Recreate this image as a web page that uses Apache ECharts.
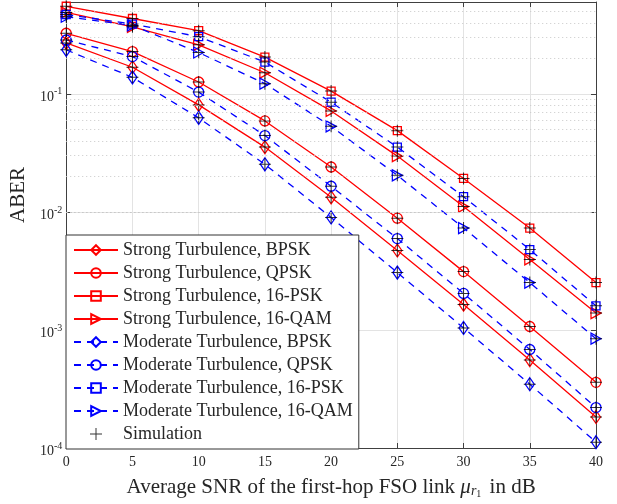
<!DOCTYPE html>
<html>
<head>
<meta charset="utf-8">
<script src="https://cdn.jsdelivr.net/npm/echarts@6/dist/echarts.min.js"></script>
<style>
  html, body { margin: 0; padding: 0; background: #fff; }
  #chart { width: 617px; height: 504px; }
</style>
</head>
<body>
<div id="chart"></div>
<script>
// SNR of the first hop (dB)
var snr = [0, 5, 10, 15, 20, 25, 30, 35, 40];

// ABER
var strongBpsk  = [0.27, 0.168, 0.0806, 0.0354, 0.0133, 0.00471, 0.00164, 0.000556, 0.000183];
var strongQpsk  = [0.326, 0.228, 0.126, 0.059, 0.024, 0.00885, 0.00312, 0.00107, 0.00036];
var strong16psk = [0.552, 0.435, 0.343, 0.205, 0.1055, 0.0488, 0.0192, 0.0073, 0.00252];
var strong16qam = [0.49, 0.37, 0.26, 0.151, 0.0717, 0.0297, 0.0111, 0.00396, 0.00139];
var modBpsk     = [0.236, 0.138, 0.0626, 0.0253, 0.00897, 0.00306, 0.00104, 0.000347, 0.000112];
var modQpsk     = [0.286, 0.207, 0.1035, 0.0443, 0.0165, 0.00594, 0.00204, 0.000683, 0.00022];
var mod16psk    = [0.47, 0.39, 0.305, 0.186, 0.085, 0.0354, 0.01345, 0.0048, 0.0016];
var mod16qam    = [0.45, 0.38, 0.224, 0.122, 0.0531, 0.0204, 0.0073, 0.00252, 0.000843];

var xTicks = [0, 5, 10, 15, 20, 25, 30, 35, 40];
var yMin = 1e-4, yMax = 0.6;

var FONT = 'Liberation Serif';
var RED = '#ff0000', BLUE = '#0000ff';
var PLUS = 'path://M-0.5,-6H0.5V-0.5H6V0.5H0.5V6H-0.5V0.5H-6V-0.5H-0.5Z';

var curves = [
    {name: 'Strong Turbulence, BPSK', data: strongBpsk, color: RED, dash: 'solid', symbol: 'diamond', size: [9, 13], rot: 0},
    {name: 'Strong Turbulence, QPSK', data: strongQpsk, color: RED, dash: 'solid', symbol: 'circle', size: 10, rot: 0},
    {name: 'Strong Turbulence, 16-PSK', data: strong16psk, color: RED, dash: 'solid', symbol: 'rect', size: 8, rot: 0},
    {name: 'Strong Turbulence, 16-QAM', data: strong16qam, color: RED, dash: 'solid', symbol: 'triangle', size: [11, 10], rot: -90},
    {name: 'Moderate Turbulence, BPSK', data: modBpsk, color: BLUE, dash: [7, 6], symbol: 'diamond', size: [9, 13], rot: 0},
    {name: 'Moderate Turbulence, QPSK', data: modQpsk, color: BLUE, dash: [7, 6], symbol: 'circle', size: 10, rot: 0},
    {name: 'Moderate Turbulence, 16-PSK', data: mod16psk, color: BLUE, dash: [7, 6], symbol: 'rect', size: 8, rot: 0},
    {name: 'Moderate Turbulence, 16-QAM', data: mod16qam, color: BLUE, dash: [7, 6], symbol: 'triangle', size: [11, 10], rot: -90}
];

// minor (dotted) grid lines at 2..9 x 10^k
var minorVals = [];
for (var k = -4; k <= -1; k++) {
    for (var m = 2; m <= 9; m++) {
        var v = m * Math.pow(10, k);
        if (v < yMax) minorVals.push(v);
    }
}

var series = [{
    name: 'minor-grid',
    type: 'line',
    data: [],
    silent: true,
    z: 0,
    markLine: {
        silent: true,
        symbol: ['none', 'none'],
        label: {show: false},
        lineStyle: {color: '#c8c8c8', type: [1, 3], width: 1},
        emphasis: {disabled: true},
        data: minorVals.map(function (v) { return {yAxis: v}; })
    }
}];

var simPoints = [];
curves.forEach(function (c) {
    series.push({
        name: c.name,
        type: 'line',
        data: snr.map(function (x, i) { return [x, c.data[i]]; }),
        symbol: c.symbol,
        symbolSize: c.size,
        symbolRotate: c.rot,
        showAllSymbol: true,
        lineStyle: {color: c.color, width: 1.3, type: c.dash},
        itemStyle: {color: 'rgba(0,0,0,0)', borderColor: c.color, borderWidth: 1.3},
        emphasis: {disabled: true},
        z: 2
    });
    snr.forEach(function (x, i) { simPoints.push([x, c.data[i]]); });
});

series.push({
    name: 'Simulation',
    type: 'scatter',
    data: simPoints,
    symbol: PLUS,
    symbolSize: 12,
    itemStyle: {color: '#000'},
    emphasis: {disabled: true},
    z: 3
});

var axisLineStyle = {color: '#404040', width: 1};

var option = {
    animation: false,
    backgroundColor: '#fff',
    grid: {left: 62, right: 21, top: 2, bottom: 52, containLabel: false},
    legend: {
        data: curves.map(function (c) { return c.name; }).concat(['Simulation']),
        orient: 'vertical',
        left: 66,
        top: 235,
        padding: [6, 6, 6, 7],
        itemWidth: 44,
        itemHeight: 12,
        itemGap: 5,
        backgroundColor: '#fff',
        borderColor: '#333',
        borderWidth: 1,
        borderRadius: 0,
        selectedMode: false,
        textStyle: {fontFamily: FONT, fontSize: 18, color: '#262626'}
    },
    xAxis: [{
        type: 'value',
        min: 0,
        max: 40,
        interval: 5,
        name: 'Average SNR of the first-hop FSO link {mu|μ}{r|r}{one|1} in dB',
        nameLocation: 'middle',
        nameGap: 27,
        nameTextStyle: {
            fontFamily: FONT, fontSize: 21, color: '#262626',
            rich: {
                mu: {fontFamily: FONT, fontSize: 21, fontStyle: 'italic', color: '#262626'},
                r: {fontFamily: FONT, fontSize: 14, fontStyle: 'italic', color: '#262626', padding: [9, 0, 0, 0]},
                one: {fontFamily: FONT, fontSize: 10, color: '#262626', padding: [14, 3, 0, 0]}
            }
        },
        axisLine: {show: true, onZero: false, lineStyle: axisLineStyle},
        axisTick: {inside: true, length: 5, lineStyle: axisLineStyle},
        axisLabel: {fontFamily: FONT, fontSize: 14, color: '#262626', margin: 7},
        splitLine: {show: true, lineStyle: {color: '#e3e3e3', width: 1}}
    }, {
        type: 'value',
        position: 'top',
        min: 0,
        max: 40,
        interval: 5,
        axisLine: {show: true, onZero: false, lineStyle: axisLineStyle},
        axisTick: {inside: true, length: 5, lineStyle: axisLineStyle},
        axisLabel: {show: false},
        splitLine: {show: false}
    }],
    yAxis: [{
        type: 'log',
        logBase: 10,
        min: yMin,
        max: yMax,
        name: 'ABER',
        nameLocation: 'middle',
        nameGap: 30,
        nameTextStyle: {fontFamily: FONT, fontSize: 21, color: '#262626', padding: [0, 0, 0, 60]},
        axisLine: {show: true, onZero: false, lineStyle: axisLineStyle},
        axisTick: {inside: true, length: 5, lineStyle: axisLineStyle},
        axisLabel: {
            margin: 4,
            formatter: function (val) {
                var e = Math.log10(val);
                var r = Math.round(e);
                if (Math.abs(e - r) > 1e-6) return '';
                return '{b|10}{e|' + r + '}';
            },
            rich: {
                b: {fontFamily: FONT, fontSize: 14, color: '#262626', padding: [6, 0, 0, 0]},
                e: {fontFamily: FONT, fontSize: 10, color: '#262626', padding: [0, 0, 4, 0]}
            }
        },
        splitLine: {show: true, lineStyle: {color: '#e3e3e3', width: 1}}
    }, {
        type: 'log',
        logBase: 10,
        min: yMin,
        max: yMax,
        position: 'right',
        axisLine: {show: true, onZero: false, lineStyle: axisLineStyle},
        axisTick: {inside: true, length: 5, lineStyle: axisLineStyle},
        axisLabel: {show: false},
        splitLine: {show: false}
    }],
    series: series
};

var chart = echarts.init(document.getElementById('chart'), null, {renderer: 'canvas'});
chart.setOption(option);
</script>
</body>
</html>
